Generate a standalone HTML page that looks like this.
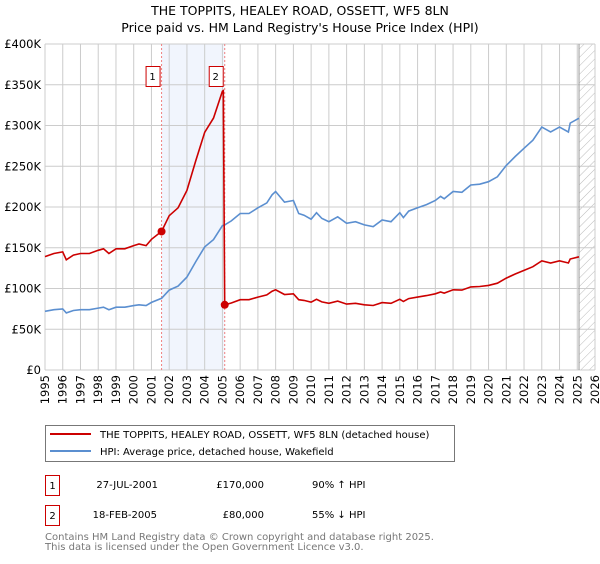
<!DOCTYPE html>
<html><head><meta charset="utf-8"><style>
body{margin:0;background:#fff;width:600px;height:560px;overflow:hidden;font-family:"DejaVu Sans","Liberation Sans",sans-serif}
text{font-family:"DejaVu Sans","Liberation Sans",sans-serif}
</style></head><body>
<svg id="chart" width="600" height="560" xmlns="http://www.w3.org/2000/svg">
<text x="300" y="15" text-anchor="middle" font-size="12.5">THE TOPPITS, HEALEY ROAD, OSSETT, WF5 8LN</text>
<text x="300" y="32" text-anchor="middle" font-size="12.5">Price paid vs. HM Land Registry's House Price Index (HPI)</text>
<defs><pattern id="hatch" width="6" height="6" patternUnits="userSpaceOnUse" patternTransform="rotate(45)"><line x1="0" y1="0" x2="0" y2="6" stroke="#bbb" stroke-width="1"/></pattern></defs>
<g id="grid"></g><g id="marks"></g><g id="axes"></g>
<g>
<rect x="45.5" y="425.5" width="409" height="36" fill="#fff" stroke="#777"/>
<line x1="50" y1="434" x2="91" y2="434" stroke="#cc0000" stroke-width="2"/>
<text x="100" y="438" font-size="10">THE TOPPITS, HEALEY ROAD, OSSETT, WF5 8LN (detached house)</text>
<line x1="50" y1="451" x2="91" y2="451" stroke="#5b8fd0" stroke-width="2"/>
<text x="100" y="455" font-size="10">HPI: Average price, detached house, Wakefield</text>
</g>
<g font-size="10">
<rect x="45.5" y="475.5" width="14" height="20" fill="#fff" stroke="#cc0000"/><text x="52.5" y="489" text-anchor="middle">1</text>
<text x="158" y="488" text-anchor="end">27-JUL-2001</text><text x="264" y="488" text-anchor="end">£170,000</text><text x="312" y="488">90% ↑ HPI</text>
<rect x="45.5" y="505.5" width="14" height="20" fill="#fff" stroke="#cc0000"/><text x="52.5" y="519" text-anchor="middle">2</text>
<text x="157" y="518" text-anchor="end">18-FEB-2005</text><text x="264" y="518" text-anchor="end">£80,000</text><text x="312" y="518">55% ↓ HPI</text>
</g>
<text x="45" y="540" font-size="10" fill="#777">Contains HM Land Registry data © Crown copyright and database right 2025.</text>
<text x="45" y="550" font-size="10" fill="#777">This data is licensed under the Open Government Licence v3.0.</text>
</svg>
<script>
const hpiYears=[1995,1995.5,1996,1996.2,1996.6,1997,1997.5,1998,1998.3,1998.6,1999,1999.5,2000,2000.3,2000.7,2001,2001.57,2002,2002.5,2003,2003.5,2004,2004.5,2005,2005.13,2005.5,2006,2006.5,2007,2007.5,2007.8,2008,2008.5,2009,2009.3,2009.6,2010,2010.3,2010.6,2011,2011.5,2012,2012.5,2013,2013.5,2014,2014.5,2015,2015.2,2015.5,2016,2016.5,2017,2017.3,2017.5,2018,2018.5,2019,2019.5,2020,2020.5,2021,2021.5,2022,2022.5,2023,2023.5,2024,2024.5,2024.6,2025.1];
const hpiValues=[72,74,75,70,73,74,74,76,77,74,77,77,79,80,79,83,88,98,103,114,133,151,160,177,178,183,192,192,199,205,215,219,206,208,192,190,185,193,186,182,188,180,182,178,176,184,182,193,187,195,199,203,208,213,210,219,218,227,228,231,237,251,262,272,282,298,292,298,292,303,309];
const saleYears=[2001.57,2005.13];
const salePrices=[170,80];
const yTicks=[0,50,100,150,200,250,300,350,400];
const yTickLabels=["£0","£50K","£100K","£150K","£200K","£250K","£300K","£350K","£400K"];
const xTicks=[1995,1996,1997,1998,1999,2000,2001,2002,2003,2004,2005,2006,2007,2008,2009,2010,2011,2012,2013,2014,2015,2016,2017,2018,2019,2020,2021,2022,2023,2024,2025,2026];
const NS="http://www.w3.org/2000/svg";
const X=y=>45+(y-1995)*(550/31);
const Y=v=>370-v*326/400;
function mk(tag,attrs,parent){const e=document.createElementNS(NS,tag);for(const k in attrs)e.setAttribute(k,attrs[k]);parent.appendChild(e);return e;}
const grid=document.getElementById('grid'),marks=document.getElementById('marks'),axes=document.getElementById('axes');
const sh=mk('rect',{x:X(saleYears[0]),y:Y(400),width:X(saleYears[1])-X(saleYears[0]),height:326,fill:'#eef3fd',opacity:0.8},grid);


const ht=mk('rect',{x:X(2025.1),y:Y(400),width:595-X(2025.1),height:326,fill:'url(#hatch)'},grid);


yTicks.forEach((t,i)=>{
 const l=mk('line',{x1:45,x2:595,y1:Y(t),y2:Y(t),stroke:'#ccc','stroke-width':1},grid);
 
 
 const tx=mk('text',{x:41,y:Y(t)+4,'text-anchor':'end','font-size':11.5},axes);tx.textContent=yTickLabels[i];
 
 
});
xTicks.forEach(t=>{
 const l=mk('line',{x1:X(t),x2:X(t),y1:Y(400),y2:370,stroke:'#ccc','stroke-width':1},grid);
 
 
 const tx=mk('text',{x:0,y:0,'text-anchor':'end','font-size':11.5,transform:`translate(${X(t)+4},375) rotate(-90)`},axes);tx.textContent=t;
 
 
});
const vl=mk('line',{x1:X(2025.1),x2:X(2025.1),y1:Y(400),y2:370,stroke:'#999','stroke-width':1},grid);


saleYears.forEach((s,i)=>{
 const l=mk('line',{x1:X(s),x2:X(s),y1:Y(400),y2:370,stroke:'#f08080','stroke-width':1,'stroke-dasharray':'2,2'},grid);
 
 
});
const hp=mk('path',{d:hpiYears.map((y,i)=>(i?'L':'M')+X(y).toFixed(1)+','+Y(hpiValues[i]).toFixed(1)).join(''),fill:'none',stroke:'#5b8fd0','stroke-width':1.6},marks);


function hpiAt(y){for(let i=0;i<hpiYears.length-1;i++){if(y<=hpiYears[i+1]){const f=(y-hpiYears[i])/(hpiYears[i+1]-hpiYears[i]);return hpiValues[i]+f*(hpiValues[i+1]-hpiValues[i]);}}return hpiValues[hpiValues.length-1];}
let d='';
const r0=salePrices[0]/hpiAt(saleYears[0]),r1=salePrices[1]/hpiAt(saleYears[1]);
hpiYears.forEach((y,i)=>{
 if(y<saleYears[1]-0.1){d+=(d?'L':'M')+X(y).toFixed(1)+','+Y(hpiValues[i]*r0).toFixed(1);}
});
d+='L'+X(saleYears[1]-0.08).toFixed(1)+','+Y(hpiAt(saleYears[1]-0.08)*r0).toFixed(1);
d+='L'+X(saleYears[1]).toFixed(1)+','+Y(salePrices[1]).toFixed(1);
hpiYears.forEach((y,i)=>{if(y>saleYears[1])d+='L'+X(y).toFixed(1)+','+Y(hpiValues[i]*r1).toFixed(1);});
const pp=mk('path',{d:d,fill:'none',stroke:'#cc0000','stroke-width':1.6},marks);


saleYears.forEach((s,i)=>{
 const c=mk('circle',{cx:X(s),cy:Y(salePrices[i]),r:4,fill:'#cc0000'},marks);
 
 
 const b=mk('rect',{x:X(s)-16+0.5,y:66.5,width:14,height:20,fill:'#fff',stroke:'#cc0000'},marks);
 
 
 const t=mk('text',{x:X(s)-9,y:80,'text-anchor':'middle','font-size':10},marks);t.textContent=String(i+1);
 
 
});
</script>
</body></html>
